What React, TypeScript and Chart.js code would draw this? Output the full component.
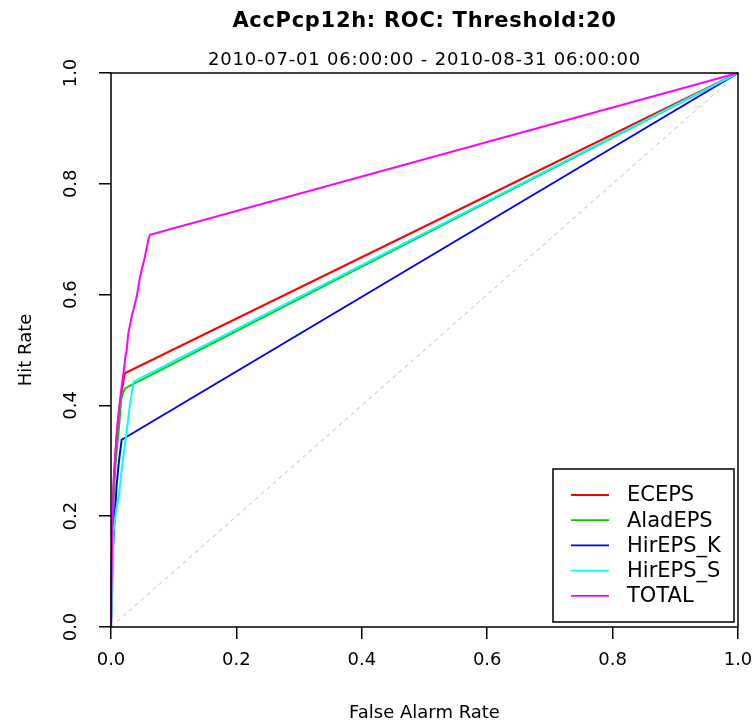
import React, { useEffect, useRef } from "react";
import { Chart, registerables } from "chart.js";

Chart.register(...registerables);

const titleText = "AccPcp12h: ROC: Threshold:20";
const subtitleText = "2010-07-01 06:00:00 - 2010-08-31 06:00:00";
const xTitle = "False Alarm Rate";
const yTitle = "Hit Rate";

const seriesNames = ["ECEPS", "AladEPS", "HirEPS_K", "HirEPS_S", "TOTAL"];
const seriesColors = ["#FF0000", "#00CD00", "#0000FF", "#00FFFF", "#FF00FF"];

const ecepsFar = [0, 0.002, 0.004, 0.007, 0.010, 0.014, 0.017, 0.022, 1];
const ecepsHit = [0, 0.16, 0.25, 0.31, 0.36, 0.40, 0.425, 0.458, 1];

const aladFar = [0, 0.002, 0.004, 0.007, 0.011, 0.014, 0.016, 0.020, 0.023, 1];
const aladHit = [0, 0.15, 0.23, 0.29, 0.34, 0.377, 0.41, 0.425, 0.431, 1];

const hirKFar = [0, 0.002, 0.004, 0.006, 0.009, 0.012, 0.0145, 0.017, 1];
const hirKHit = [0, 0.12, 0.16, 0.20, 0.256, 0.292, 0.316, 0.338, 1];

const hirSFar = [0, 0.003, 0.004, 0.008, 0.013, 0.016, 0.020, 0.025, 0.030, 0.036, 1];
const hirSHit = [0, 0.097, 0.17, 0.21, 0.238, 0.274, 0.31, 0.353, 0.40, 0.443, 1];

const totalFar = [0, 0.002, 0.004, 0.006, 0.009, 0.012, 0.016, 0.020, 0.0234, 0.025, 0.0276, 0.033, 0.041, 0.046, 0.054, 0.0595, 0.062, 1];
const totalHit = [0, 0.18, 0.262, 0.30, 0.347, 0.385, 0.425, 0.46, 0.491, 0.50, 0.53, 0.56, 0.596, 0.63, 0.668, 0.699, 0.708, 1];

const diagFar = [0, 1];
const diagHit = [0, 1];

const xTicks = [0, 0.2, 0.4, 0.6, 0.8, 1.0];

const FONT = "'DejaVu Sans', sans-serif";

function toPoints(xs: number[], ys: number[]) {
  return xs.map((x, i) => ({ x, y: ys[i] }));
}

const boxAndTextPlugin = {
  id: "boxAndText",
  afterDraw(chart: any) {
    const { ctx, chartArea } = chart;
    const { left, right, top, bottom } = chartArea;
    ctx.save();
    // plot box
    ctx.strokeStyle = "#000";
    ctx.lineWidth = 1.5;
    ctx.strokeRect(left, top, right - left, bottom - top);
    // titles
    const cx = (left + right) / 2;
    ctx.fillStyle = "#000";
    ctx.textAlign = "center";
    ctx.textBaseline = "middle";
    ctx.font = `bold 21px ${FONT}`;
    (ctx as any).letterSpacing = "0.7px";
    ctx.fillText(titleText, cx, 22);
    ctx.font = `18px ${FONT}`;
    (ctx as any).letterSpacing = "0.8px";
    ctx.fillText(subtitleText, cx, 60);
    (ctx as any).letterSpacing = "0px";
    // legend
    const lx = 553, ly = 469, lw = 181, lh = 153;
    ctx.fillStyle = "#fff";
    ctx.fillRect(lx, ly, lw, lh);
    ctx.strokeStyle = "#000";
    ctx.lineWidth = 1.5;
    ctx.strokeRect(lx, ly, lw, lh);
    ctx.font = `21px ${FONT}`;
    ctx.textAlign = "left";
    ctx.textBaseline = "middle";
    const ds = chart.data.datasets.filter((d: any) => d.inLegend);
    ds.forEach((d: any, i: number) => {
      const y = ly + 26 + i * 25.2;
      ctx.strokeStyle = d.borderColor;
      ctx.lineWidth = 1.8;
      ctx.beginPath();
      ctx.moveTo(571, y);
      ctx.lineTo(609, y);
      ctx.stroke();
      ctx.fillStyle = "#000";
      ctx.fillText(d.label, 627, y + 1);
    });
    ctx.restore();
  },
};

export default function App() {
  const ref = useRef<HTMLCanvasElement | null>(null);
  useEffect(() => {
    if (!ref.current) return;
    const xs = [ecepsFar, aladFar, hirKFar, hirSFar, totalFar];
    const ys = [ecepsHit, aladHit, hirKHit, hirSHit, totalHit];
    const datasets: any[] = seriesNames.map((name, i) => ({
      label: name,
      data: toPoints(xs[i], ys[i]),
      borderColor: seriesColors[i],
      backgroundColor: seriesColors[i],
      borderWidth: 2,
      showLine: true,
      pointRadius: 0,
      fill: false,
      tension: 0,
      clip: false,
      order: 5 - i,
      inLegend: true,
    }));
    datasets.push({
      label: "diag",
      data: toPoints(diagFar, diagHit),
      borderColor: "#D3D3D3",
      borderWidth: 1.2,
      borderDash: [4, 4],
      showLine: true,
      pointRadius: 0,
      fill: false,
      order: 10,
      inLegend: false,
    });
    const chart = new Chart(ref.current, {
      type: "scatter",
      data: { datasets },
      plugins: [boxAndTextPlugin],
      options: {
        responsive: false,
        animation: false,
        events: [],
        layout: { padding: { left: 0, right: 17, top: 73, bottom: 0 } },
        plugins: {
          legend: { display: false },
          tooltip: { enabled: false },
          title: { display: false },
        },
        scales: {
          x: {
            type: "linear",
            min: 0,
            max: 1,
            afterBuildTicks: (scale: any) => {
              scale.ticks = xTicks.map((v) => ({ value: v }));
            },
            afterFit: (scale: any) => {
              scale.height = 97;
              scale.paddingLeft = 0;
              scale.paddingRight = 0;
            },
            ticks: {
              color: "#000",
              font: { family: FONT, size: 18 },
              padding: 11,
              maxRotation: 0,
              autoSkip: false,
              callback: (v: any) => Number(v).toFixed(1),
            },
            grid: {
              drawOnChartArea: false,
              drawTicks: true,
              tickLength: 12,
              color: "#000",
              lineWidth: 1.5,
            },
            border: { display: false },
            title: {
              display: true,
              text: xTitle,
              color: "#000",
              font: { family: FONT, size: 18 },
              padding: { top: 0, bottom: 0 },
            },
          },
          y: {
            type: "linear",
            min: 0,
            max: 1,
            afterBuildTicks: (scale: any) => {
              scale.ticks = xTicks.map((v) => ({ value: v }));
            },
            afterFit: (scale: any) => {
              scale.width = 111;
              scale.paddingTop = 0;
              scale.paddingBottom = 0;
            },
            ticks: {
              color: "#000",
              font: { family: FONT, size: 18 },
              padding: 13,
              minRotation: 90,
              maxRotation: 90,
              crossAlign: "center",
              autoSkip: false,
              callback: (v: any) => Number(v).toFixed(1),
            },
            grid: {
              drawOnChartArea: false,
              drawTicks: true,
              tickLength: 12,
              color: "#000",
              lineWidth: 1.5,
            },
            border: { display: false },
            title: {
              display: true,
              text: yTitle,
              color: "#000",
              font: { family: FONT, size: 18 },
              padding: { top: 16, bottom: 0 },
            },
          },
        },
      } as any,
    });
    return () => chart.destroy();
  }, []);
  return (
    <div style={{ position: "absolute", left: 0, top: 0, width: 755, height: 724, background: "#fff" }}>
      <canvas ref={ref} width={755} height={724} style={{ display: "block" }} />
    </div>
  );
}
